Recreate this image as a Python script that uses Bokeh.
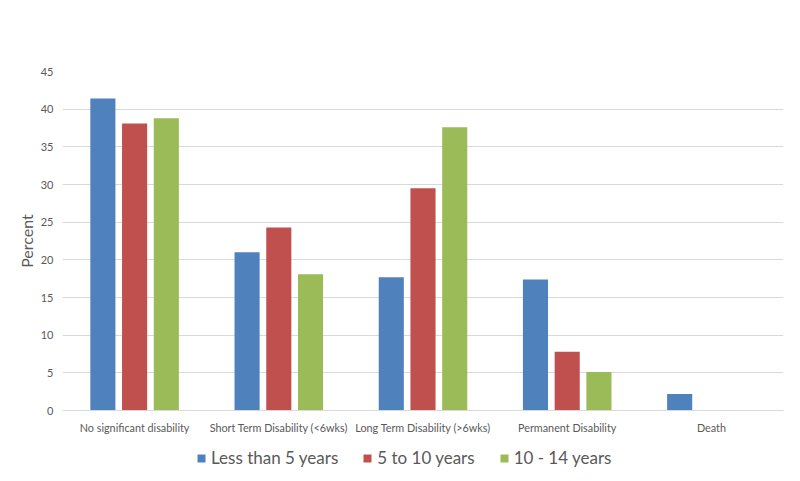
from bokeh.plotting import figure
from bokeh.models import ColumnDataSource, Range1d, Legend, LegendItem
from bokeh.layouts import column
from bokeh.transform import dodge
from bokeh.embed import file_html
from bokeh.resources import INLINE

categories = ["No significant disability", "Short Term Disability (<6wks)",
              "Long Term Disability (>6wks)", "Permanent Disability", "Death"]
less_than_5 = [41.4, 21.0, 17.7, 17.4, 2.2]
five_to_ten = [38.1, 24.3, 29.5, 7.8, 0.0]
ten_to_14 = [38.8, 18.1, 37.6, 5.1, 0.0]
series_names = ["Less than 5 years", "5 to 10 years", "10 - 14 years"]
colors = ["#4f81bd", "#c0504d", "#9bbb59"]
y_ticks = [0, 5, 10, 15, 20, 25, 30, 35, 40, 45]

FONT = "Lato"
TXT = "#595959"

source = ColumnDataSource(dict(cat=categories, s0=less_than_5, s1=five_to_ten, s2=ten_to_14))

p = figure(x_range=categories, y_range=Range1d(0, 45), width=800, height=436,
           output_backend="svg", toolbar_location=None,
           min_border_left=62, min_border_right=17, min_border_top=71, min_border_bottom=24)

offsets = [-0.22, 0.0, 0.22]
for i, (key, col) in enumerate(zip(["s0", "s1", "s2"], colors)):
    p.vbar(x=dodge("cat", offsets[i], range=p.x_range), top=key, width=0.174,
           source=source, fill_color=col, line_color=None)

p.outline_line_color = None
p.xgrid.grid_line_color = None
p.ygrid.grid_line_color = "#d9d9d9"
p.ygrid.grid_line_width = 1

p.yaxis.ticker = y_ticks
p.yaxis.axis_line_color = None
p.yaxis.major_tick_line_color = None
p.yaxis.minor_tick_line_color = None
p.yaxis.major_tick_out = 0
p.yaxis.major_tick_in = 0
p.yaxis.major_label_standoff = 9
p.yaxis.major_label_text_font = FONT
p.yaxis.major_label_text_font_size = "11px"
p.yaxis.major_label_text_color = TXT
p.yaxis.axis_label = "Percent"
p.yaxis.axis_label_text_font = FONT
p.yaxis.axis_label_text_font_size = "16px"
p.yaxis.axis_label_text_font_style = "normal"
p.yaxis.axis_label_text_color = TXT
p.yaxis.axis_label_standoff = 2

p.xaxis.axis_line_color = "#d9d9d9"
p.xaxis.major_tick_line_color = None
p.xaxis.minor_tick_line_color = None
p.xaxis.major_tick_out = 0
p.xaxis.major_tick_in = 0
p.xaxis.major_label_standoff = 10
p.xaxis.major_label_text_font = FONT
p.xaxis.major_label_text_font_size = "10.8px"
p.xaxis.major_label_text_color = TXT

# legend strip below the chart (helper glyphs are zero-height, so nothing is drawn)
lg = figure(width=800, height=45, x_range=Range1d(0, 1), y_range=Range1d(0, 1),
            output_backend="svg", toolbar_location=None,
            x_axis_location=None, y_axis_location=None, min_border=0)
lg.outline_line_color = None
lg.grid.grid_line_color = None
legend_renderers = [lg.vbar(x=[0.5], top=[0], bottom=[0], width=0.01, fill_color=c, line_color=None)
                    for c in colors]
legend = Legend(items=[LegendItem(label=n, renderers=[r]) for n, r in zip(series_names, legend_renderers)],
                orientation="horizontal", location=(134, 13),
                glyph_width=10, glyph_height=10, label_standoff=5, spacing=24,
                label_text_font=FONT, label_text_font_size="17px", label_text_color=TXT,
                border_line_color=None, background_fill_alpha=0, padding=0, margin=0)
lg.add_layout(legend, "center")

layout = column(p, lg, spacing=0)
open("out.html", "w").write(file_html(layout, INLINE))
